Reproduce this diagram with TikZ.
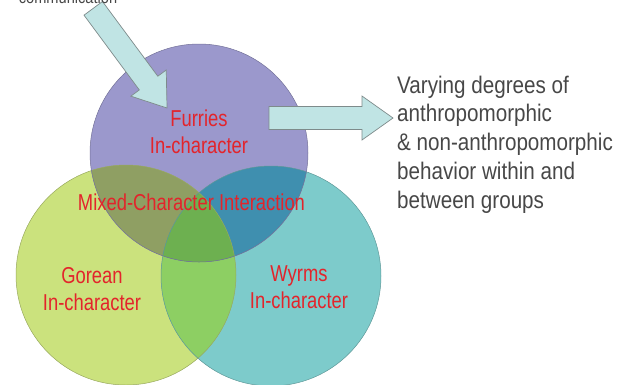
\documentclass[tikz,border=0pt]{standalone}
\usepackage{fontspec}
\newfontfamily\redsf[FakeStretch=0.8]{Liberation Sans}
\newfontfamily\greysf[FakeStretch=0.86]{Liberation Sans}
\usepackage{tikz}
\usetikzlibrary{positioning, calc}
\definecolor{furfill}{HTML}{9B98CC}
\definecolor{gorfill}{HTML}{CBE27D}
\definecolor{wyrfill}{HTML}{7DCBCB}
\definecolor{fgfill}{HTML}{8F9F63}
\definecolor{fwfill}{HTML}{3F8FAF}
\definecolor{gwfill}{HTML}{8DCF63}
\definecolor{allfill}{HTML}{6DB050}
\definecolor{arrfill}{HTML}{C0E4E4}
\definecolor{arrline}{HTML}{7E8B8B}
\definecolor{lblred}{HTML}{E3242B}
\definecolor{txtgrey}{HTML}{474747}

\tikzset{
  blockarr/.pic = {
    \draw[blk] (0,0) -- (-31,-22) -- (-31,-11.5) -- (-124,-11.5)
               -- (-124,11.5) -- (-31,11.5) -- (-31,22) -- cycle;
  },
}

\begin{document}
\begin{tikzpicture}[
    x = 1pt, y = -1pt,
    circ/.style = {draw=#1!75!black, line width=0.5pt},
    lbl/.style  = {font=\redsf\fontsize{23}{26.5}\selectfont, text=lblred,
                   align=center, inner sep=0pt, anchor=base},
    note/.style = {font=\greysf\fontsize{24}{28.75}\selectfont, text=txtgrey,
                   align=left, inner sep=0pt},
    blk/.style  = {fill=arrfill, draw=arrline, line width=0.7pt},
  ]
  \useasboundingbox (0,0) rectangle (622,384);
  \coordinate (Fc) at (199,153);
  \coordinate (Gc) at (126,275);
  \coordinate (Wc) at (271,276);

  % the three groups
  \fill[gorfill] (Gc) circle (110pt);
  \fill[wyrfill] (Wc) circle (110pt);
  \fill[furfill] (Fc) circle (109pt);
  % overlaps
  \begin{scope}
    \clip (Gc) circle (110pt);
    \fill[gwfill] (Wc) circle (110pt);
  \end{scope}
  \begin{scope}
    \clip (Fc) circle (109pt);
    \fill[fgfill] (Gc) circle (110pt);
    \fill[fwfill] (Wc) circle (110pt);
    \clip (Gc) circle (110pt);
    \fill[allfill] (Wc) circle (110pt);
  \end{scope}
  \draw[circ=gorfill] (Gc) circle (110pt);
  \draw[circ=wyrfill] (Wc) circle (110pt);
  \draw[circ=furfill] (Fc) circle (109pt);

  % block arrows
  \pic[rotate=-53.5] at (167,108) {blockarr};
  \pic at (393,118) {blockarr};

  \node[note, anchor=base] (com) at (68,3)
       {\fontsize{17}{20}\selectfont communication};
  % labels sit on the baseline of their last line
  \node[lbl] (fur) at (199,153.3) {Furries\\In-character};
  \node[lbl] (mix) at (191.5,210) {Mixed-Character Interaction};
  \node[lbl] (gor) at (92,310) {Gorean\\In-character};
  \node[lbl] (wyr) at (299,308) {Wyrms\\In-character};
  \node[note, anchor=base west] (var) at (397,208)
       {Varying degrees of\\anthropomorphic\\\& non-anthropomorphic\\behavior within and\\between groups};
\end{tikzpicture}
\end{document}
